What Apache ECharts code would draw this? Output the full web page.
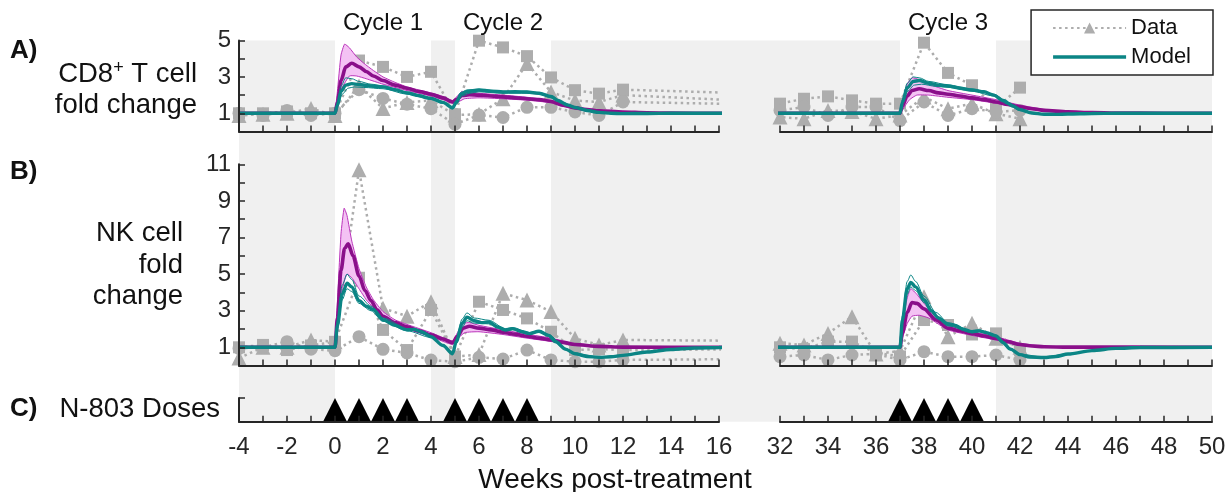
<!DOCTYPE html>
<html>
<head>
<meta charset="utf-8">
<title>N-803 immune response</title>
<script src="https://cdn.jsdelivr.net/npm/echarts@6/dist/echarts.min.js"></script>
<style>
  html, body { margin: 0; padding: 0; background: #ffffff; }
  #chart { width: 1228px; height: 492px; }
</style>
</head>
<body>
<div id="chart"></div>
<script>
// ---------------------------------------------------------------------------
// Measured data: fold change relative to baseline, one array per subject
// ---------------------------------------------------------------------------
const dataWeeks = [-4, -3, -2, -1, 0, 1, 2, 3, 4, 5, 6, 7, 8, 9, 10, 11, 12,
                   32, 33, 34, 35, 36, 37, 38, 39, 40, 41, 42];

const cd8Triangle = [0.88, 0.95, 1.0, 1.27, 0.88, 2.5, 1.27, 1.6, 1.71, 0.9, 0.95, 1.8, 3.74, 2.17, 1.7, 1.62, 2.0,
                     0.79, 0.7, 1.16, 1.1, 0.7, 0.9, 1.9, 1.25, 1.53, 0.98, 0.7];
const cd8Square   = [1.0, 1.0, 1.1, 1.0, 1.0, 3.9, 3.55, 3.0, 3.28, 0.95, 4.99, 4.62, 4.14, 2.97, 2.27, 2.08, 2.3,
                     1.53, 1.8, 1.93, 1.71, 1.53, 1.53, 4.88, 3.22, 2.54, 1.3, 2.41];
const cd8Circle   = [1.0, 0.88, 1.16, 0.88, 1.0, 2.3, 1.82, 1.5, 1.25, 0.4, 0.9, 0.77, 1.33, 1.33, 1.07, 0.88, 1.62,
                     1.16, 1.34, 0.88, 1.34, 1.34, 0.6, 1.62, 0.88, 1.25, 1.08, 1.16];

const nkTriangle = [0.41, 1.0, 1.0, 1.4, 1.3, 10.7, 3.13, 2.7, 3.49, 0.5, 0.6, 3.95, 3.58, 2.95, 1.49, 1.13, 1.4,
                    1.22, 1.13, 1.76, 2.67, 0.64, 0.8, 3.76, 1.58, 2.31, 1.5, 1.0];
const nkSquare   = [1.0, 1.13, 0.85, 1.1, 1.3, 4.8, 1.95, 0.85, 3.04, 0.5, 3.49, 3.04, 2.58, 1.85, 0.85, 0.9, 0.85,
                    1.0, 0.9, 1.31, 1.31, 0.7, 0.5, 2.49, 2.22, 1.7, 1.76, 0.85];
const nkCircle   = [0.94, 1.0, 1.31, 0.9, 0.81, 1.58, 0.89, 0.69, 0.3, 0.21, 0.45, 0.36, 0.85, 0.31, 0.21, 0.21, 0.31,
                    0.49, 0.58, 0.31, 0.58, 0.64, 0.31, 0.76, 0.49, 0.49, 0.58, 0.31];

// ---------------------------------------------------------------------------
// Model trajectories: [week, fold change]
// ---------------------------------------------------------------------------
const cd8Model = [[-4,1],[0,1],[0.1,1.45],[0.25,2.2],[0.45,2.55],[0.7,2.63],[1,2.58],[1.5,2.5],[2,2.45],[2.5,2.3],[3,2.12],[3.5,1.97],[4,1.82],[4.5,1.6],[4.9,1.3],[5.05,1.6],[5.25,2.05],[5.5,2.2],[6,2.28],[6.5,2.22],[7,2.17],[7.5,2.18],[8,2.17],[8.5,2.1],[9,1.92],[9.3,1.7],[9.7,1.45],[10,1.32],[10.5,1.15],[11,1.05],[11.5,1.0],[12,0.98],[13,0.99],[14,1],[32,1],[37,1],[37.1,1.6],[37.3,2.4],[37.55,2.75],[37.8,2.8],[38.2,2.65],[38.6,2.55],[39,2.5],[39.5,2.38],[40,2.28],[40.5,2.18],[40.9,2.0],[41.3,1.7],[41.7,1.4],[42,1.2],[42.5,1.02],[43,0.95],[43.5,0.94],[44,0.96],[45,0.99],[46,1],[50,1]];
const cd8ModelHi = [[-4,1],[0,1],[0.1,1.6],[0.25,2.5],[0.45,2.95],[0.7,2.9],[1,2.75],[1.5,2.6],[2,2.5],[3,2.17],[4,1.86],[4.5,1.64],[4.9,1.35],[5.05,1.7],[5.25,2.15],[5.5,2.28],[6,2.32],[7,2.21],[8,2.21],[8.5,2.14],[9,1.96],[9.5,1.6],[10,1.36],[11,1.07],[12,0.99],[14,1],[32,1],[37,1],[37.1,1.75],[37.3,2.65],[37.55,3.0],[37.8,2.95],[38.2,2.75],[39,2.56],[40,2.33],[40.9,2.05],[41.5,1.6],[42,1.25],[42.5,1.05],[43,0.97],[44,0.97],[45,0.99],[46,1],[50,1]];
const cd8ModelLo = [[-4,1],[0,1],[0.1,1.35],[0.3,2.05],[0.55,2.38],[0.8,2.45],[1.2,2.42],[2,2.35],[3,2.05],[4,1.76],[4.5,1.55],[4.9,1.25],[5.05,1.5],[5.3,1.95],[5.6,2.1],[6,2.18],[7,2.1],[8,2.1],[8.5,2.05],[9,1.86],[9.5,1.52],[10,1.28],[11,1.03],[12,0.97],[14,1],[32,1],[37,1],[37.1,1.5],[37.3,2.2],[37.6,2.55],[37.9,2.6],[38.5,2.48],[39,2.43],[40,2.22],[40.9,1.95],[41.5,1.5],[42,1.15],[42.5,1.0],[43,0.93],[44,0.95],[45,0.99],[46,1],[50,1]];
const cd8Alt = [[-4,1],[0,1],[0.1,1.6],[0.25,2.8],[0.45,3.55],[0.7,3.75],[1,3.55],[1.3,3.3],[1.6,3.05],[2,2.8],[2.5,2.55],[3,2.38],[3.5,2.2],[4,2.05],[4.5,1.85],[4.9,1.62],[5.05,1.75],[5.3,1.98],[5.6,2.02],[6,2.0],[6.5,1.95],[7,1.9],[7.5,1.85],[8,1.8],[8.5,1.75],[9,1.65],[9.5,1.45],[10,1.3],[10.5,1.2],[11,1.14],[12,1.07],[13,1.03],[14,1.01],[16,1],[32,1],[37,1],[37.1,1.4],[37.3,1.95],[37.5,2.25],[37.8,2.35],[38.2,2.25],[38.6,2.12],[39,2.05],[39.5,1.95],[40,1.85],[40.5,1.75],[41,1.62],[41.5,1.48],[42,1.36],[42.5,1.25],[43,1.16],[44,1.08],[45,1.04],[46,1.02],[48,1],[50,1]];
const cd8AltHi = [[0,1],[0.1,2.2],[0.25,4.2],[0.4,4.8],[0.6,4.6],[0.9,4.1],[1.2,3.75],[1.6,3.35],[2,3.0],[2.5,2.7],[3,2.45],[3.5,2.28],[4,2.12],[4.5,1.92],[4.9,1.7],[5.1,1.95],[5.3,2.2],[5.6,2.15],[6,2.1],[7,2.0],[8,1.88],[9,1.72],[9.5,1.52],[10,1.36],[11,1.18],[12,1.09],[14,1.02],[16,1],[37,1],[37.1,1.7],[37.3,2.6],[37.5,2.95],[37.8,2.85],[38.2,2.6],[39,2.25],[40,2.0],[41,1.75],[42,1.45],[43,1.22],[44,1.1],[46,1.03],[50,1]];
const cd8AltLo = [[0,1],[0.1,1.3],[0.3,2.4],[0.6,3.05],[0.9,3.05],[1.3,2.9],[2,2.6],[3,2.25],[4,1.95],[4.5,1.75],[4.9,1.55],[5.1,1.6],[5.4,1.8],[6,1.85],[7,1.8],[8,1.72],[9,1.58],[9.5,1.38],[10,1.25],[11,1.1],[12,1.05],[14,1.01],[16,1],[37,1],[37.1,1.2],[37.4,1.75],[37.7,2.0],[38.2,2.0],[39,1.88],[40,1.75],[41,1.55],[42,1.3],[43,1.12],[44,1.06],[46,1.01],[50,1]];

const nkModel = [[-4,1],[0,1],[0.1,2.2],[0.3,3.9],[0.5,4.5],[0.7,4.3],[1,3.55],[1.3,3.25],[1.6,3.05],[2,2.5],[2.5,2.2],[3,1.95],[3.3,1.98],[3.6,1.85],[4,1.58],[4.5,1.1],[4.9,0.65],[5.05,1.3],[5.3,2.3],[5.5,2.65],[5.8,2.45],[6.1,2.35],[6.4,2.38],[6.8,2.1],[7.1,1.95],[7.4,2.02],[7.8,1.85],[8.1,1.75],[8.5,1.88],[8.9,1.65],[9.2,1.3],[9.6,0.9],[10,0.65],[10.5,0.5],[11,0.45],[11.5,0.48],[12,0.56],[13,0.74],[14,0.88],[15,0.96],[16,0.99],[32,1],[37,1],[37.1,2.5],[37.3,4.2],[37.45,4.55],[37.65,4.3],[38,3.6],[38.3,3.0],[38.6,2.6],[39,2.25],[39.3,2.2],[39.6,2.0],[40,1.85],[40.3,1.9],[40.6,1.8],[41,1.62],[41.3,1.25],[41.6,0.9],[42,0.6],[42.4,0.47],[43,0.44],[43.5,0.5],[44,0.63],[45,0.82],[46,0.94],[47,0.99],[50,1]];
const nkModelHi = [[-4,1],[0,1],[0.1,2.5],[0.3,4.4],[0.5,5.0],[0.7,4.7],[1,3.8],[1.5,3.25],[2,2.6],[3,2.02],[4,1.62],[4.5,1.15],[4.9,0.72],[5.05,1.45],[5.3,2.55],[5.5,2.88],[5.8,2.6],[6.4,2.48],[7.1,2.02],[7.4,2.08],[8.1,1.8],[8.5,1.92],[8.9,1.7],[9.6,0.95],[10,0.68],[11,0.47],[12,0.58],[13,0.75],[14,0.89],[16,0.99],[32,1],[37,1],[37.1,2.7],[37.3,4.6],[37.45,4.95],[37.65,4.6],[38,3.8],[38.5,2.9],[39,2.35],[40,1.9],[40.3,1.95],[41,1.66],[41.6,0.95],[42,0.63],[43,0.46],[44,0.65],[45,0.83],[46,0.95],[47,0.99],[50,1]];
const nkModelLo = [[-4,1],[0,1],[0.1,2.0],[0.3,3.6],[0.5,4.2],[0.7,4.05],[1,3.4],[1.5,3.0],[2,2.42],[3,1.9],[4,1.54],[4.5,1.06],[4.9,0.62],[5.05,1.2],[5.3,2.1],[5.5,2.45],[5.8,2.32],[6.4,2.28],[7.1,1.9],[7.4,1.96],[8.1,1.7],[8.5,1.83],[8.9,1.6],[9.6,0.86],[10,0.62],[11,0.43],[12,0.54],[13,0.72],[14,0.87],[16,0.99],[32,1],[37,1],[37.1,2.3],[37.3,3.9],[37.45,4.3],[37.65,4.1],[38,3.45],[38.5,2.75],[39,2.18],[40,1.8],[40.3,1.85],[41,1.58],[41.6,0.86],[42,0.57],[43,0.42],[44,0.61],[45,0.81],[46,0.93],[47,0.99],[50,1]];
const nkAlt = [[-4,1],[0,1],[0.1,2.6],[0.25,5.2],[0.4,6.4],[0.55,6.65],[0.75,6.0],[1,4.9],[1.25,4.1],[1.5,3.55],[1.75,3.05],[2,2.7],[2.5,2.35],[3,2.12],[3.5,1.9],[4,1.68],[4.5,1.45],[4.9,1.25],[5.1,1.6],[5.35,2.05],[5.6,2.15],[6,2.05],[6.5,1.95],[7,1.82],[7.5,1.72],[8,1.6],[8.5,1.5],[9,1.4],[9.5,1.27],[10,1.15],[11,1.05],[12,1.01],[16,1],[32,1],[37,1],[37.1,1.8],[37.3,2.9],[37.5,3.45],[37.7,3.4],[38,3.1],[38.5,2.5],[39,2.05],[39.5,1.9],[40,1.75],[40.5,1.62],[41,1.48],[41.5,1.3],[42,1.15],[42.5,1.07],[43,1.03],[44,1.01],[50,1]];
const nkAltHi = [[0,1],[0.1,3.5],[0.25,7.2],[0.38,8.6],[0.5,8.2],[0.7,6.8],[1,5.3],[1.3,4.3],[1.6,3.6],[2,2.95],[2.5,2.5],[3,2.25],[4,1.8],[4.9,1.35],[5.1,1.8],[5.35,2.3],[5.6,2.35],[6,2.2],[7,1.95],[8,1.72],[9,1.5],[10,1.2],[11,1.07],[12,1.02],[16,1],[37,1],[37.1,2.3],[37.3,3.7],[37.45,4.2],[37.7,3.9],[38,3.4],[38.5,2.7],[39,2.2],[40,1.85],[41,1.58],[42,1.22],[43,1.06],[44,1.02],[50,1]];
const nkAltLo = [[0,1],[0.1,2.0],[0.3,4.2],[0.5,5.0],[0.7,4.8],[1,4.2],[1.3,3.6],[1.6,3.15],[2,2.5],[3,2.0],[4,1.58],[4.9,1.15],[5.1,1.45],[5.4,1.8],[6,1.85],[7,1.7],[8,1.5],[9,1.32],[10,1.1],[11,1.03],[16,1],[37,1],[37.1,1.5],[37.3,2.3],[37.5,2.7],[37.8,2.75],[38.2,2.6],[39,1.95],[40,1.65],[41,1.4],[42,1.1],[43,1.02],[50,1]];

// ---------------------------------------------------------------------------
// Dosing schedule, treatment cycles and axis ticks
// ---------------------------------------------------------------------------
const doseWeeks = [0, 1, 2, 3, 5, 6, 7, 8, 37, 38, 39, 40];
const offTreatment = [[-4, 0], [4, 5], [9, 37], [41, 50]];
const cycleNames = ['Cycle 1', 'Cycle 2', 'Cycle 3'];
const cycleSpans = [[0, 4], [5, 9], [37, 41]];
const weekLabels = [-4, -2, 0, 2, 4, 6, 8, 10, 12, 14, 16, 32, 34, 36, 38, 40, 42, 44, 46, 48, 50];
const cd8Labels = [1, 3, 5];
const nkLabels = [1, 3, 5, 7, 9, 11];

// ---------------------------------------------------------------------------
// Styling and layout
// ---------------------------------------------------------------------------
const FONT = "'Liberation Sans', Arial, Helvetica, sans-serif";
const INK = '#262626';
const GRAY = '#adadad';
const TEAL = '#0b8585';
const PURPLE = '#8a0f8a';
const BAND_FILL = '#f4c2f4';
const BAND_EDGE = '#bb35bb';
const SHADE = '#f0f0f0';

const PX_PER_WEEK = 24;
const SEG_L = [-4, 16];
const SEG_R = [32, 50];
const X_LEFT = 239;
const GAP = 61;
const X_RIGHT = X_LEFT + (SEG_L[1] - SEG_L[0]) * PX_PER_WEEK + GAP;
const W_LEFT = (SEG_L[1] - SEG_L[0]) * PX_PER_WEEK;
const W_RIGHT = (SEG_R[1] - SEG_R[0]) * PX_PER_WEEK;

const rows = [
  { top: 40.5, height: 91, max: 5, labels: cd8Labels },
  { top: 164.3, height: 201.3, max: 11, labels: nkLabels },
  { top: 398, height: 23.7, max: 1, labels: [] }
];
const plotTop = rows[0].top;
const plotBottom = rows[2].top + rows[2].height;

const grids = [];
const xAxes = [];
const yAxes = [];
rows.forEach((row, r) => {
  [SEG_L, SEG_R].forEach((seg, s) => {
    grids.push({ left: s === 0 ? X_LEFT : X_RIGHT, top: row.top,
                 width: s === 0 ? W_LEFT : W_RIGHT, height: row.height,
                 outerBoundsMode: 'none', containLabel: false });
    xAxes.push({
      type: 'value', gridIndex: r * 2 + s, min: seg[0], max: seg[1], interval: 1,
      position: 'bottom', z: 10,
      axisLine: { show: true, onZero: false, lineStyle: { color: INK, width: 2 } },
      axisTick: { show: true, inside: true, length: 6, lineStyle: { color: INK, width: 1.5 } },
      axisLabel: {
        show: r === 2, margin: 14, color: INK, fontFamily: FONT, fontSize: 24,
        showMinLabel: true, showMaxLabel: true,
        formatter: v => weekLabels.includes(v) ? String(v) : ''
      },
      splitLine: { show: false }
    });
    yAxes.push({
      type: 'value', gridIndex: r * 2 + s, min: 0, max: row.max, interval: 1,
      position: 'left', show: s === 0, z: 10,
      axisLine: { show: true, onZero: false, lineStyle: { color: INK, width: 2 } },
      axisTick: { show: true, inside: true, length: 6, lineStyle: { color: INK, width: 1.5 } },
      axisLabel: {
        show: row.labels.length > 0, margin: 8, color: INK, fontFamily: FONT, fontSize: 24,
        showMinLabel: true, showMaxLabel: true,
        formatter: v => row.labels.includes(v) ? String(v) : ''
      },
      splitLine: { show: false }
    });
  });
});
// Shading layer behind all panels (left part also spans the axis break)
const BG_L = grids.length;
grids.push({ left: X_LEFT, top: plotTop, width: W_LEFT + GAP, height: plotBottom - plotTop, outerBoundsMode: 'none' });
xAxes.push({ type: 'value', gridIndex: BG_L, min: SEG_L[0], max: SEG_L[1] + GAP / PX_PER_WEEK, show: false });
yAxes.push({ type: 'value', gridIndex: BG_L, min: 0, max: 1, show: false });
const BG_R = grids.length;
grids.push({ left: X_RIGHT, top: plotTop, width: W_RIGHT, height: plotBottom - plotTop, outerBoundsMode: 'none' });
xAxes.push({ type: 'value', gridIndex: BG_R, min: SEG_R[0], max: SEG_R[1], show: false });
yAxes.push({ type: 'value', gridIndex: BG_R, min: 0, max: 1, show: false });

// ---------------------------------------------------------------------------
// Series builders
// ---------------------------------------------------------------------------
function shadeSeries(g) {
  return {
    type: 'custom', xAxisIndex: g, yAxisIndex: g, silent: true, z: 0,
    data: offTreatment,
    encode: { x: [0, 1] },
    renderItem: (params, api) => {
      const ext = xAxes[g];
      const a = Math.max(api.value(0), ext.min);
      const b = Math.min(api.value(1), ext.max);
      if (b <= a) return null;
      const p0 = api.coord([a, 1]);
      const p1 = api.coord([b, 0]);
      return { type: 'rect', shape: { x: p0[0], y: p0[1], width: p1[0] - p0[0], height: p1[1] - p0[1] },
               style: { fill: SHADE } };
    }
  };
}

function dataSeries(g, triangle, square, circle) {
  return [[triangle, 'triangle', 15], [square, 'rect', 12], [circle, 'circle', 13]].map(([vals, sym, size]) => ({
    type: 'line', name: 'Data', xAxisIndex: g, yAxisIndex: g,
    data: dataWeeks.map((w, i) => [w, vals[i]]),
    symbol: sym, symbolSize: size, showSymbol: true, showAllSymbol: true, clip: true,
    itemStyle: { color: GRAY, opacity: 1 },
    lineStyle: { color: GRAY, width: 2.5, type: [2.5, 3.5] },
    z: 2, silent: true
  }));
}

function bandSeries(g, seg, hi, lo) {
  return {
    type: 'custom', name: 'Alternative model range', xAxisIndex: g, yAxisIndex: g, silent: true, z: 3,
    data: [[seg[0], 1]],
    renderItem: (params, api) => {
      const inSeg = p => p[0] >= seg[0] && p[0] <= seg[1];
      const top = hi.filter(inSeg).map(p => api.coord(p));
      const bottom = lo.filter(inSeg).reverse().map(p => api.coord(p));
      return { type: 'polygon', shape: { points: top.concat(bottom), smooth: 0.15 },
               style: { fill: BAND_FILL, stroke: BAND_EDGE, lineWidth: 1 } };
    }
  };
}

function curve(g, name, pts, color, width, z) {
  return {
    type: 'line', name, xAxisIndex: g, yAxisIndex: g, data: pts,
    symbol: 'none', showSymbol: false, smooth: 0.3, smoothMonotone: 'x', clip: true,
    lineStyle: { color, width }, itemStyle: { color }, z, silent: true
  };
}

const series = [];
[[0, SEG_L], [1, SEG_R]].forEach(([s, seg]) => {
  const gA = s, gB = 2 + s;
  series.push(...dataSeries(gA, cd8Triangle, cd8Square, cd8Circle));
  series.push(...dataSeries(gB, nkTriangle, nkSquare, nkCircle));
  series.push(bandSeries(gA, seg, cd8AltHi, cd8AltLo));
  series.push(bandSeries(gB, seg, nkAltHi, nkAltLo));
  series.push(curve(gA, 'Alternative model', cd8Alt, PURPLE, 3.6, 4));
  series.push(curve(gB, 'Alternative model', nkAlt, PURPLE, 3.6, 4));
  series.push(curve(gA, 'Model ensemble', cd8ModelHi, TEAL, 1, 5));
  series.push(curve(gA, 'Model ensemble', cd8ModelLo, TEAL, 1, 5));
  series.push(curve(gB, 'Model ensemble', nkModelHi, TEAL, 1, 5));
  series.push(curve(gB, 'Model ensemble', nkModelLo, TEAL, 1, 5));
  series.push(curve(gA, 'Model', cd8Model, TEAL, 3.4, 6));
  series.push(curve(gB, 'Model', nkModel, TEAL, 3.4, 6));
  series.push({
    type: 'scatter', name: 'N-803 dose', xAxisIndex: 4 + s, yAxisIndex: 4 + s, silent: true,
    data: doseWeeks.filter(w => w >= seg[0] && w <= seg[1]).map(w => [w, 0.5]),
    symbol: 'triangle', symbolSize: [PX_PER_WEEK, rows[2].height],
    itemStyle: { color: '#000000', opacity: 1 }, z: 6
  });
});
series.unshift(shadeSeries(BG_L), shadeSeries(BG_R));

// ---------------------------------------------------------------------------
// Panel labels and axis titles
// ---------------------------------------------------------------------------
function txt(x, y, text, size, opts = {}) {
  return {
    type: 'text', x, y, silent: true, z: 20,
    style: Object.assign({ text, font: `${opts.bold ? 'bold ' : ''}${size}px ${FONT}`, fill: '#111111',
                           align: opts.align || 'left', verticalAlign: 'middle',
                           lineHeight: opts.lineHeight || size }, opts.extra || {})
  };
}

const LABEL_SIZE = 27.5;
const graphics = [
  txt(10, 51, 'A)', 26, { bold: true }),
  txt(10, 172, 'B)', 26, { bold: true }),
  txt(10, 409, 'C)', 26, { bold: true }),
  {
    type: 'text', x: 197, y: 90, silent: true, z: 20,
    style: {
      text: '{t|CD8}{s|+}{t| T cell}\n{t|fold change}',
      align: 'right', verticalAlign: 'middle', fill: '#111111',
      rich: {
        t: { fontFamily: FONT, fontSize: LABEL_SIZE, lineHeight: 31, fill: '#111111' },
        s: { fontFamily: FONT, fontSize: 18, lineHeight: 31, fill: '#111111', padding: [0, 0, 13, 0] }
      }
    }
  },
  txt(183, 265, 'NK cell\nfold\nchange', LABEL_SIZE, { align: 'right', lineHeight: 31.5 }),
  txt(220, 409, 'N-803 Doses', LABEL_SIZE, { align: 'right' }),
  txt(615, 480, 'Weeks post-treatment', 28, { align: 'center' })
];

// ---------------------------------------------------------------------------
// Chart
// ---------------------------------------------------------------------------
const chart = echarts.init(document.getElementById('chart'), null, { renderer: 'canvas' });
chart.setOption({
  animation: false,
  backgroundColor: '#ffffff',
  textStyle: { fontFamily: FONT },
  grid: grids,
  xAxis: xAxes,
  yAxis: yAxes,
  legend: {
    data: [
      { name: 'Data' },
      { name: 'Model', icon: 'path://M0,0 L73,0 L73,3.4 L0,3.4 Z', itemStyle: { color: TEAL } }
    ],
    orient: 'vertical', right: 15, top: 10,
    itemWidth: 73, itemHeight: 14, itemGap: 7, padding: [7, 22, 7, 21],
    symbolKeepAspect: true,
    borderColor: INK, borderWidth: 1.5, backgroundColor: '#ffffff', selectedMode: false,
    textStyle: { fontFamily: FONT, fontSize: 22, color: '#111111' }
  },
  series,
  graphic: graphics
});

// Cycle titles centred over each treatment cycle
const cycleTitles = cycleSpans.map((span, i) => {
  const mid = (span[0] + span[1]) / 2;
  const axis = mid <= SEG_L[1] ? 0 : 1;
  const x = chart.convertToPixel({ xAxisIndex: axis }, mid);
  return txt(x, 23, cycleNames[i], 24, { align: 'center' });
});
chart.setOption({ graphic: graphics.concat(cycleTitles) });
</script>
</body>
</html>
